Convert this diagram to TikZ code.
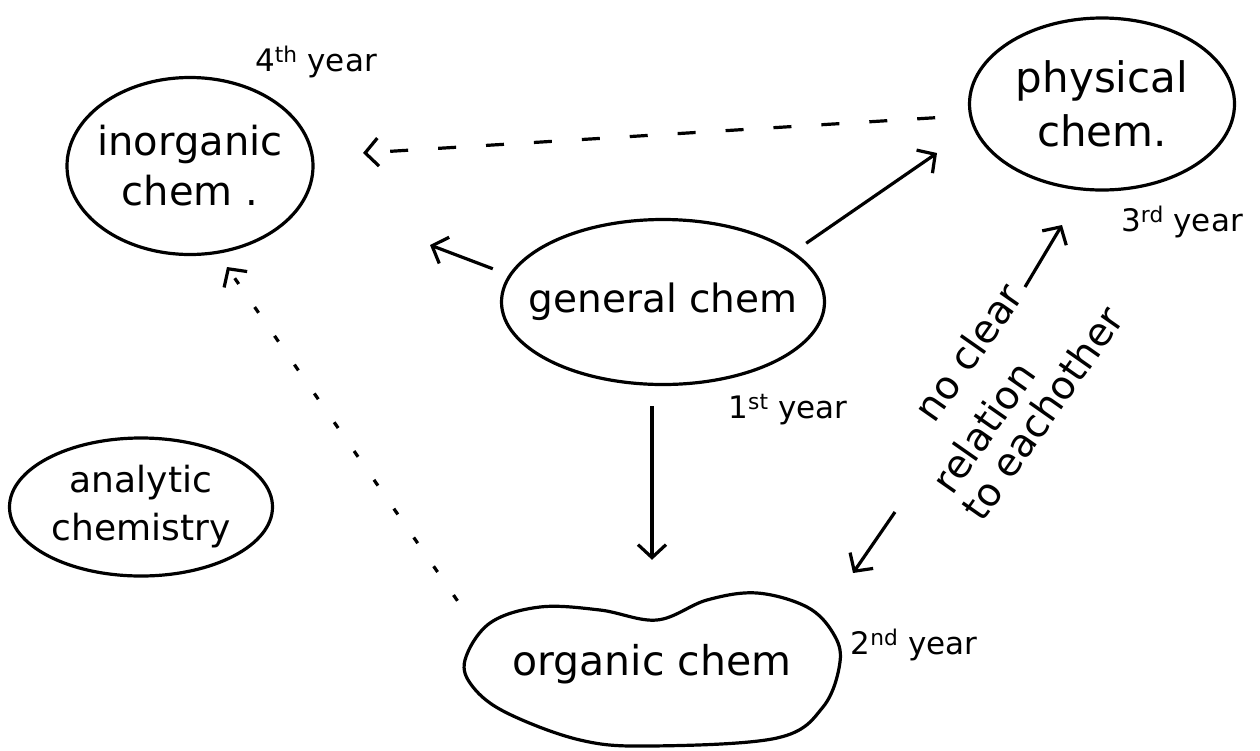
\documentclass[tikz,border=0pt]{standalone}
\usepackage{fontspec}
\setmainfont{DejaVu Sans}
\usetikzlibrary{shapes.geometric,arrows.meta}
\begin{document}
\begin{tikzpicture}[x=1pt,y=-1pt,
  bubble/.style={ellipse, draw, line width=3.2pt, inner xsep=-25pt, inner ysep=0pt,
    align=center, font=\fontsize{40}{50}\selectfont},
  yearlbl/.style={font=\fontsize{31}{36}\selectfont, inner sep=0pt},
  notelbl/.style={font=\fontsize{39}{44}\selectfont, inner sep=0pt, rotate=55},
  conn/.style={line width=3.2pt, -{Straight Barb[length=13pt,width=28pt,line width=3.2pt]}},
  dashconn/.style={conn, dash pattern=on 18pt off 30pt},
  dotconn/.style={conn, dash pattern=on 7pt off 28pt},
]
\useasboundingbox (0,0) rectangle (1260,750);

% nodes
\node[bubble, minimum width=246pt, minimum height=177pt] (inorg) at (190,166) {inorganic\\chem .};
\node[bubble, minimum width=265pt, minimum height=172pt, font=\fontsize{42}{54}\selectfont] (phys) at (1102,104) {physical\\chem.};
\node[bubble, minimum width=323pt, minimum height=165pt, font=\fontsize{39}{46}\selectfont] (gen) at (663,302) {general chem};
\node[bubble, minimum width=263pt, minimum height=138pt,
      font=\fontsize{36}{48}\selectfont] (anal) at (141,507) {analytic\\chemistry};
\node[ellipse, inner xsep=-25pt, inner ysep=0pt, minimum width=375pt, minimum height=150pt,
      font=\fontsize{41}{48}\selectfont] (org) at (652,664) {organic chem};
\draw[line width=3.2pt] plot[smooth cycle, tension=0.6] coordinates {
  (465,660) (490,623) (540,607) (600,610) (657,620) (707,600) (757,593)
  (807,607) (833,633) (840,662) (823,707) (777,738) (650,746) (580,740)
  (507,713) (473,687)};

% year labels
\node[yearlbl] (y4) at (316,62) {4\textsuperscript{th} year};
\node[yearlbl] (y3) at (1182,222) {3\textsuperscript{rd} year};
\node[yearlbl] (y1) at (788,410) {1\textsuperscript{st} year};
\node[yearlbl] (y2) at (914,645) {2\textsuperscript{nd} year};

% rotated note
\node[notelbl] (note1) at (968,352) {no clear};
\node[notelbl] (note2) at (983,427) {relation};
\node[notelbl] (note3) at (1042,413) {to eachother};

% free ends
\coordinate (t1) at (430,245);
\coordinate (t2) at (937,153);
\coordinate (t3) at (363,153);
\coordinate (t4) at (227,267);
\coordinate (n1a) at (1025,287);
\coordinate (n1b) at (1062,225);
\coordinate (n2a) at (895,512);
\coordinate (n2b) at (853,573);

% connectors
\draw[conn, shorten <=20pt, shorten >=29pt] (org.north |- gen.south) -- (org.north);
\draw[conn, shorten <=17pt] (gen.170) -- (t1);
\draw[conn, shorten <=15pt] (gen.21) -- (t2);
\draw[dashconn, shorten <=34pt] (phys.185) -- (t3);
\draw[dotconn, shorten <=40pt] (org.170) -- (t4);
\draw[conn] (n1a) -- (n1b);
\draw[conn] (n2a) -- (n2b);
\end{tikzpicture}
\end{document}
